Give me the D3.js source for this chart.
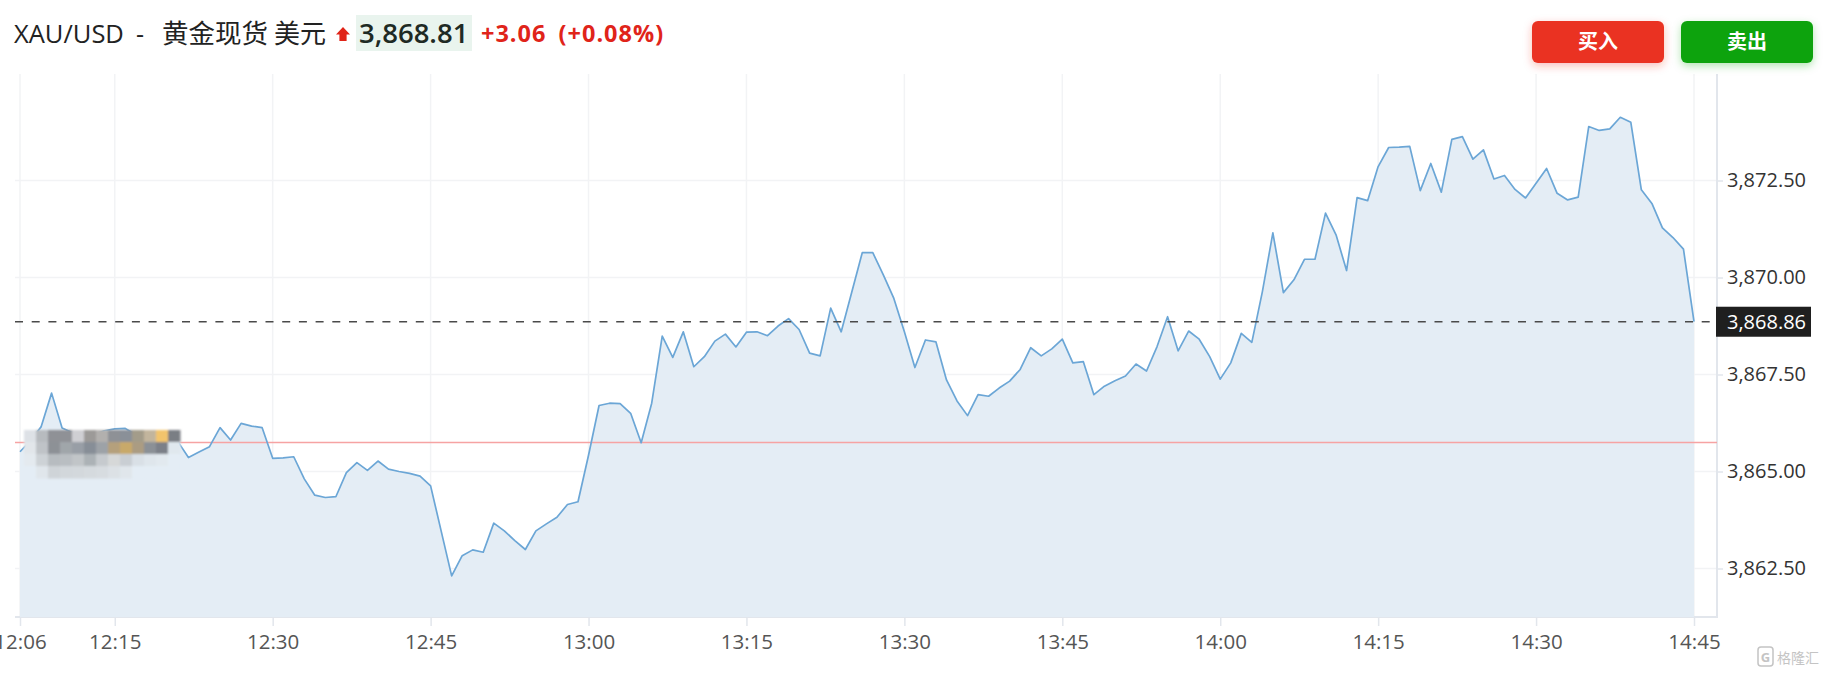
<!DOCTYPE html>
<html>
<head>
<meta charset="utf-8">
<script src="https://cdn.jsdelivr.net/npm/d3@7/dist/d3.min.js"></script>
<style>
  body { margin: 0; background: #fff; }
  svg { display: block; font-family: "Open Sans", "Noto Sans CJK SC", sans-serif; }
  .grid line { stroke: #f2f3f5; stroke-width: 1.5; }
  .axis .tick line { stroke: #e2e6ec; stroke-width: 1.5; }
  .x.axis text { fill: #555; }
  .y.axis text { fill: #333; }
</style>
</head>
<body>
<div class="chart"></div>
<script>
// one price per minute, starting at startTime
var startTime = "12:06";
var prices = [
  3865.51, 3865.80, 3866.15, 3867.02, 3866.12, 3866.00, 3865.90, 3865.95, 3866.05, 3866.10,
  3866.11, 3865.95, 3865.90, 3865.85, 3865.60, 3865.77, 3865.36, 3865.50, 3865.64, 3866.13,
  3865.81, 3866.24, 3866.17, 3866.13, 3865.34, 3865.35, 3865.38, 3864.81, 3864.39, 3864.33,
  3864.35, 3864.97, 3865.23, 3865.03, 3865.27, 3865.06, 3865.00, 3864.95, 3864.88, 3864.63,
  3863.47, 3862.31, 3862.83, 3862.98, 3862.92, 3863.67, 3863.47, 3863.22, 3862.99, 3863.47,
  3863.65, 3863.82, 3864.15, 3864.22, 3865.42, 3866.70, 3866.76, 3866.75, 3866.50, 3865.74,
  3866.76, 3868.49, 3867.94, 3868.60, 3867.70, 3867.96, 3868.36, 3868.54, 3868.21, 3868.59,
  3868.60, 3868.50, 3868.75, 3868.94, 3868.66, 3868.05, 3867.98, 3869.21, 3868.60, 3869.62,
  3870.64, 3870.64, 3870.07, 3869.46, 3868.60, 3867.68, 3868.39, 3868.34, 3867.36, 3866.82,
  3866.44, 3866.98, 3866.94, 3867.15, 3867.33, 3867.63, 3868.19, 3867.98, 3868.16, 3868.41,
  3867.80, 3867.83, 3866.98, 3867.20, 3867.34, 3867.46, 3867.77, 3867.59, 3868.22, 3868.99,
  3868.11, 3868.62, 3868.41, 3867.96, 3867.38, 3867.80, 3868.56, 3868.33, 3869.63, 3871.15,
  3869.61, 3869.94, 3870.47, 3870.47, 3871.66, 3871.10, 3870.18, 3872.06, 3871.98, 3872.86,
  3873.35, 3873.36, 3873.38, 3872.24, 3872.94, 3872.20, 3873.56, 3873.63, 3873.05, 3873.29,
  3872.54, 3872.63, 3872.27, 3872.05, 3872.43, 3872.81, 3872.17, 3872.00, 3872.07, 3873.89,
  3873.79, 3873.83, 3874.13, 3874.00, 3872.26, 3871.91, 3871.28, 3871.03, 3870.73, 3868.86
];
var xTickLabels = ["12:06", "12:15", "12:30", "12:45", "13:00", "13:15", "13:30",
  "13:45", "14:00", "14:15", "14:30", "14:45"];
var yTicks = [3862.5, 3865, 3867.5, 3870, 3872.5];
var prevClose = 3865.75;
var lastPrice = 3868.86;

var titleSymbol = "XAU/USD";
var titleName = "黄金现货";
var titleUnit = "美元";
var quotePrice = "3,868.81";
var quoteChange = "+3.06 (+0.08%)";
var buttons = ["买入", "卖出"];

var width = 1828, height = 676;
var plot = { left: 15, right: 1717, top: 74, bottom: 617 };

var parseTime = d3.timeParse("%H:%M");
var t0 = parseTime(startTime);
var series = prices.map((p, i) => ({ time: d3.timeMinute.offset(t0, i), price: p }));

var svg = d3.select("div.chart")
  .append("svg")
  .attr("width", width)
  .attr("height", height);

var xScale = d3.scaleTime()
  .domain(d3.extent(series, d => d.time))
  .range([20, 1694]);

var yScale = d3.scaleLinear()
  .domain([3861.25, 3875.245])
  .range([plot.bottom, plot.top]);

// grid
var grid = svg.append("g").attr("class", "grid");
grid.selectAll("line.h")
  .data(yTicks)
  .enter().append("line")
  .attr("class", "h")
  .attr("x1", plot.left).attr("x2", plot.right)
  .attr("y1", d => yScale(d)).attr("y2", d => yScale(d));
grid.selectAll("line.v")
  .data(xTickLabels.map(parseTime))
  .enter().append("line")
  .attr("class", "v")
  .attr("x1", d => xScale(d)).attr("x2", d => xScale(d))
  .attr("y1", plot.top).attr("y2", plot.bottom);

// frame: bottom + right edge
svg.append("path")
  .attr("d", `M${plot.left},${plot.bottom}H${plot.right}V${plot.top}`)
  .attr("fill", "none")
  .attr("stroke", "#e2e6ec")
  .attr("stroke-width", 2);

// area + line
var area = d3.area()
  .x(d => xScale(d.time))
  .y0(plot.bottom)
  .y1(d => yScale(d.price));
var line = d3.line()
  .x(d => xScale(d.time))
  .y(d => yScale(d.price));

svg.append("path")
  .datum(series)
  .attr("d", area)
  .attr("fill", "#e4edf5");

svg.append("line")
  .attr("x1", plot.left).attr("x2", plot.right)
  .attr("y1", yScale(prevClose)).attr("y2", yScale(prevClose))
  .attr("stroke", "#f6a3a3")
  .attr("stroke-width", 1.5);

svg.append("path")
  .datum(series)
  .attr("d", line)
  .attr("fill", "none")
  .attr("stroke", "#6ba6d6")
  .attr("stroke-width", 1.7)
  .attr("stroke-linejoin", "round");

svg.append("line")
  .attr("x1", plot.left).attr("x2", plot.right)
  .attr("y1", yScale(lastPrice)).attr("y2", yScale(lastPrice))
  .attr("stroke", "#4a4a4a")
  .attr("stroke-width", 1.6)
  .attr("stroke-dasharray", "8,8.7");

// pixelated blur over the start of the line
var mosaicRows = [
  ["#dde1e6", "#b7bbbf", "#8f9196", "#8f9196", "#cfcfd3", "#9c9a98", "#b2b0ae", "#8e9196", "#8a9098", "#a39c8a", "#c2b59d", "#f2c46c", "#7a7e84"],
  ["#e2e6ea", "#bfc3c7", "#8d9196", "#a0a6aa", "#989ea6", "#878e97", "#9da2a7", "#b5a07c", "#c8a96a", "#ab9c82", "#8b9096", "#7b8088", "#e0e8ee"],
  ["#e4eaef", "#cdd2d6", "#b7bcc0", "#b9bec2", "#c1c5c8", "#acb2b6", "#c6cace", "#d6d8d8", "#c9ced3", "#d9e0e6", "#dfe6ec", "#e2e9ef", "#e4edf5"],
  ["#e4edf5", "#e0e6eb", "#cfd4d8", "#d2d7db", "#d3d8dc", "#d5dade", "#d7dce0", "#dce1e5", "#e0e6eb", "#e4edf5", "#e4edf5", "#e4edf5", "#e4edf5"]
];
var defs = svg.append("defs");
defs.append("filter").attr("id", "soft")
  .append("feGaussianBlur").attr("stdDeviation", 1.2);
var mosaic = svg.append("g").attr("filter", "url(#soft)");
mosaicRows.forEach((row, r) => {
  mosaic.selectAll(null)
    .data(row)
    .enter().append("rect")
    .attr("x", (d, c) => 24 + c * 12)
    .attr("y", 430 + r * 12)
    .attr("width", 12.5)
    .attr("height", 12.5)
    .attr("fill", d => d);
});

// axes
var xAxis = d3.axisBottom(xScale)
  .tickValues(xTickLabels.map(parseTime))
  .tickFormat(d3.timeFormat("%H:%M"))
  .tickSize(9)
  .tickPadding(8);
var gx = svg.append("g")
  .attr("class", "x axis")
  .attr("transform", `translate(0,${plot.bottom})`)
  .call(xAxis);
gx.select(".domain").remove();
gx.attr("font-size", 20.5).attr("font-family", null);

var yAxis = d3.axisRight(yScale)
  .tickValues(yTicks)
  .tickFormat(d3.format(",.2f"))
  .tickSize(6)
  .tickPadding(4);
var gy = svg.append("g")
  .attr("class", "y axis")
  .attr("transform", `translate(${plot.right},0)`)
  .call(yAxis);
gy.select(".domain").remove();
gy.attr("font-size", 20).attr("font-family", null);

// current price tag
var tag = svg.append("g")
  .attr("transform", `translate(${plot.right - 1},${yScale(lastPrice)})`);
tag.append("rect")
  .attr("x", 0).attr("y", -15)
  .attr("width", 95).attr("height", 30)
  .attr("fill", "#1f1f1f");
tag.append("text")
  .attr("x", 11).attr("dy", "0.36em")
  .attr("font-size", 20)
  .attr("fill", "#fff")
  .text(d3.format(",.2f")(lastPrice));

// header
var header = svg.append("g");
var title = header.append("text")
  .attr("y", 43)
  .attr("fill", "#222");
title.append("tspan").attr("x", 14).attr("font-size", 25.5).text(titleSymbol);
title.append("tspan").attr("x", 136).attr("font-size", 25).text("-");
title.append("tspan").attr("x", 162).attr("font-size", 26.5).text(titleName);
title.append("tspan").attr("x", 274).attr("font-size", 26).text(titleUnit);

header.append("path")
  .attr("d", "M343,27L350,34.5H346.6V41H339.4V34.5H336Z")
  .attr("fill", "#e02418");
header.append("rect")
  .attr("x", 356).attr("y", 15)
  .attr("width", 116).attr("height", 36)
  .attr("fill", "#e9f4ee");
header.append("text")
  .attr("x", 359).attr("y", 43)
  .attr("font-size", 27.5)
  .attr("font-weight", 600)
  .attr("fill", "#1e2a24")
  .text(quotePrice);
header.append("text")
  .attr("x", 481).attr("y", 42)
  .attr("font-size", 23.5)
  .attr("font-weight", 700)
  .attr("letter-spacing", 1)
  .attr("word-spacing", 5)
  .attr("fill", "#e0241a")
  .text(quoteChange);

// buy / sell
var glow = defs.selectAll("filter.glow")
  .data(["#ea3323", "#0ba30b"])
  .enter().append("filter")
  .attr("class", "glow")
  .attr("id", (d, i) => "glow" + i)
  .attr("x", "-20%").attr("y", "-40%").attr("width", "140%").attr("height", "190%");
glow.append("feDropShadow")
  .attr("dx", 0).attr("dy", 3)
  .attr("stdDeviation", 4)
  .attr("flood-color", d => d)
  .attr("flood-opacity", 0.3);

var btn = svg.selectAll("g.btn")
  .data(buttons)
  .enter().append("g")
  .attr("class", "btn")
  .attr("transform", (d, i) => `translate(${1532 + i * 149},21)`);
btn.append("rect")
  .attr("width", 132).attr("height", 42)
  .attr("rx", 6)
  .attr("fill", (d, i) => i ? "#0ba30b" : "#ea3323")
  .attr("filter", (d, i) => `url(#glow${i})`);
btn.append("text")
  .attr("x", 66).attr("y", 21).attr("dy", "0.36em")
  .attr("text-anchor", "middle")
  .attr("font-size", 20)
  .attr("font-weight", 700)
  .attr("fill", "#fff")
  .text(d => d);

// watermark
var wm = svg.append("g").attr("transform", "translate(1758,647)");
wm.append("rect")
  .attr("width", 15).attr("height", 19).attr("rx", 3)
  .attr("fill", "none").attr("stroke", "#c4c4c4").attr("stroke-width", 1.5);
wm.append("text")
  .attr("x", 7.5).attr("y", 14.5)
  .attr("text-anchor", "middle")
  .attr("font-size", 13).attr("font-weight", 700)
  .attr("fill", "#c4c4c4")
  .text("G");
wm.append("text")
  .attr("x", 19).attr("y", 16)
  .attr("font-size", 14)
  .attr("fill", "#c4c4c4")
  .text("格隆汇");
</script>
</body>
</html>
